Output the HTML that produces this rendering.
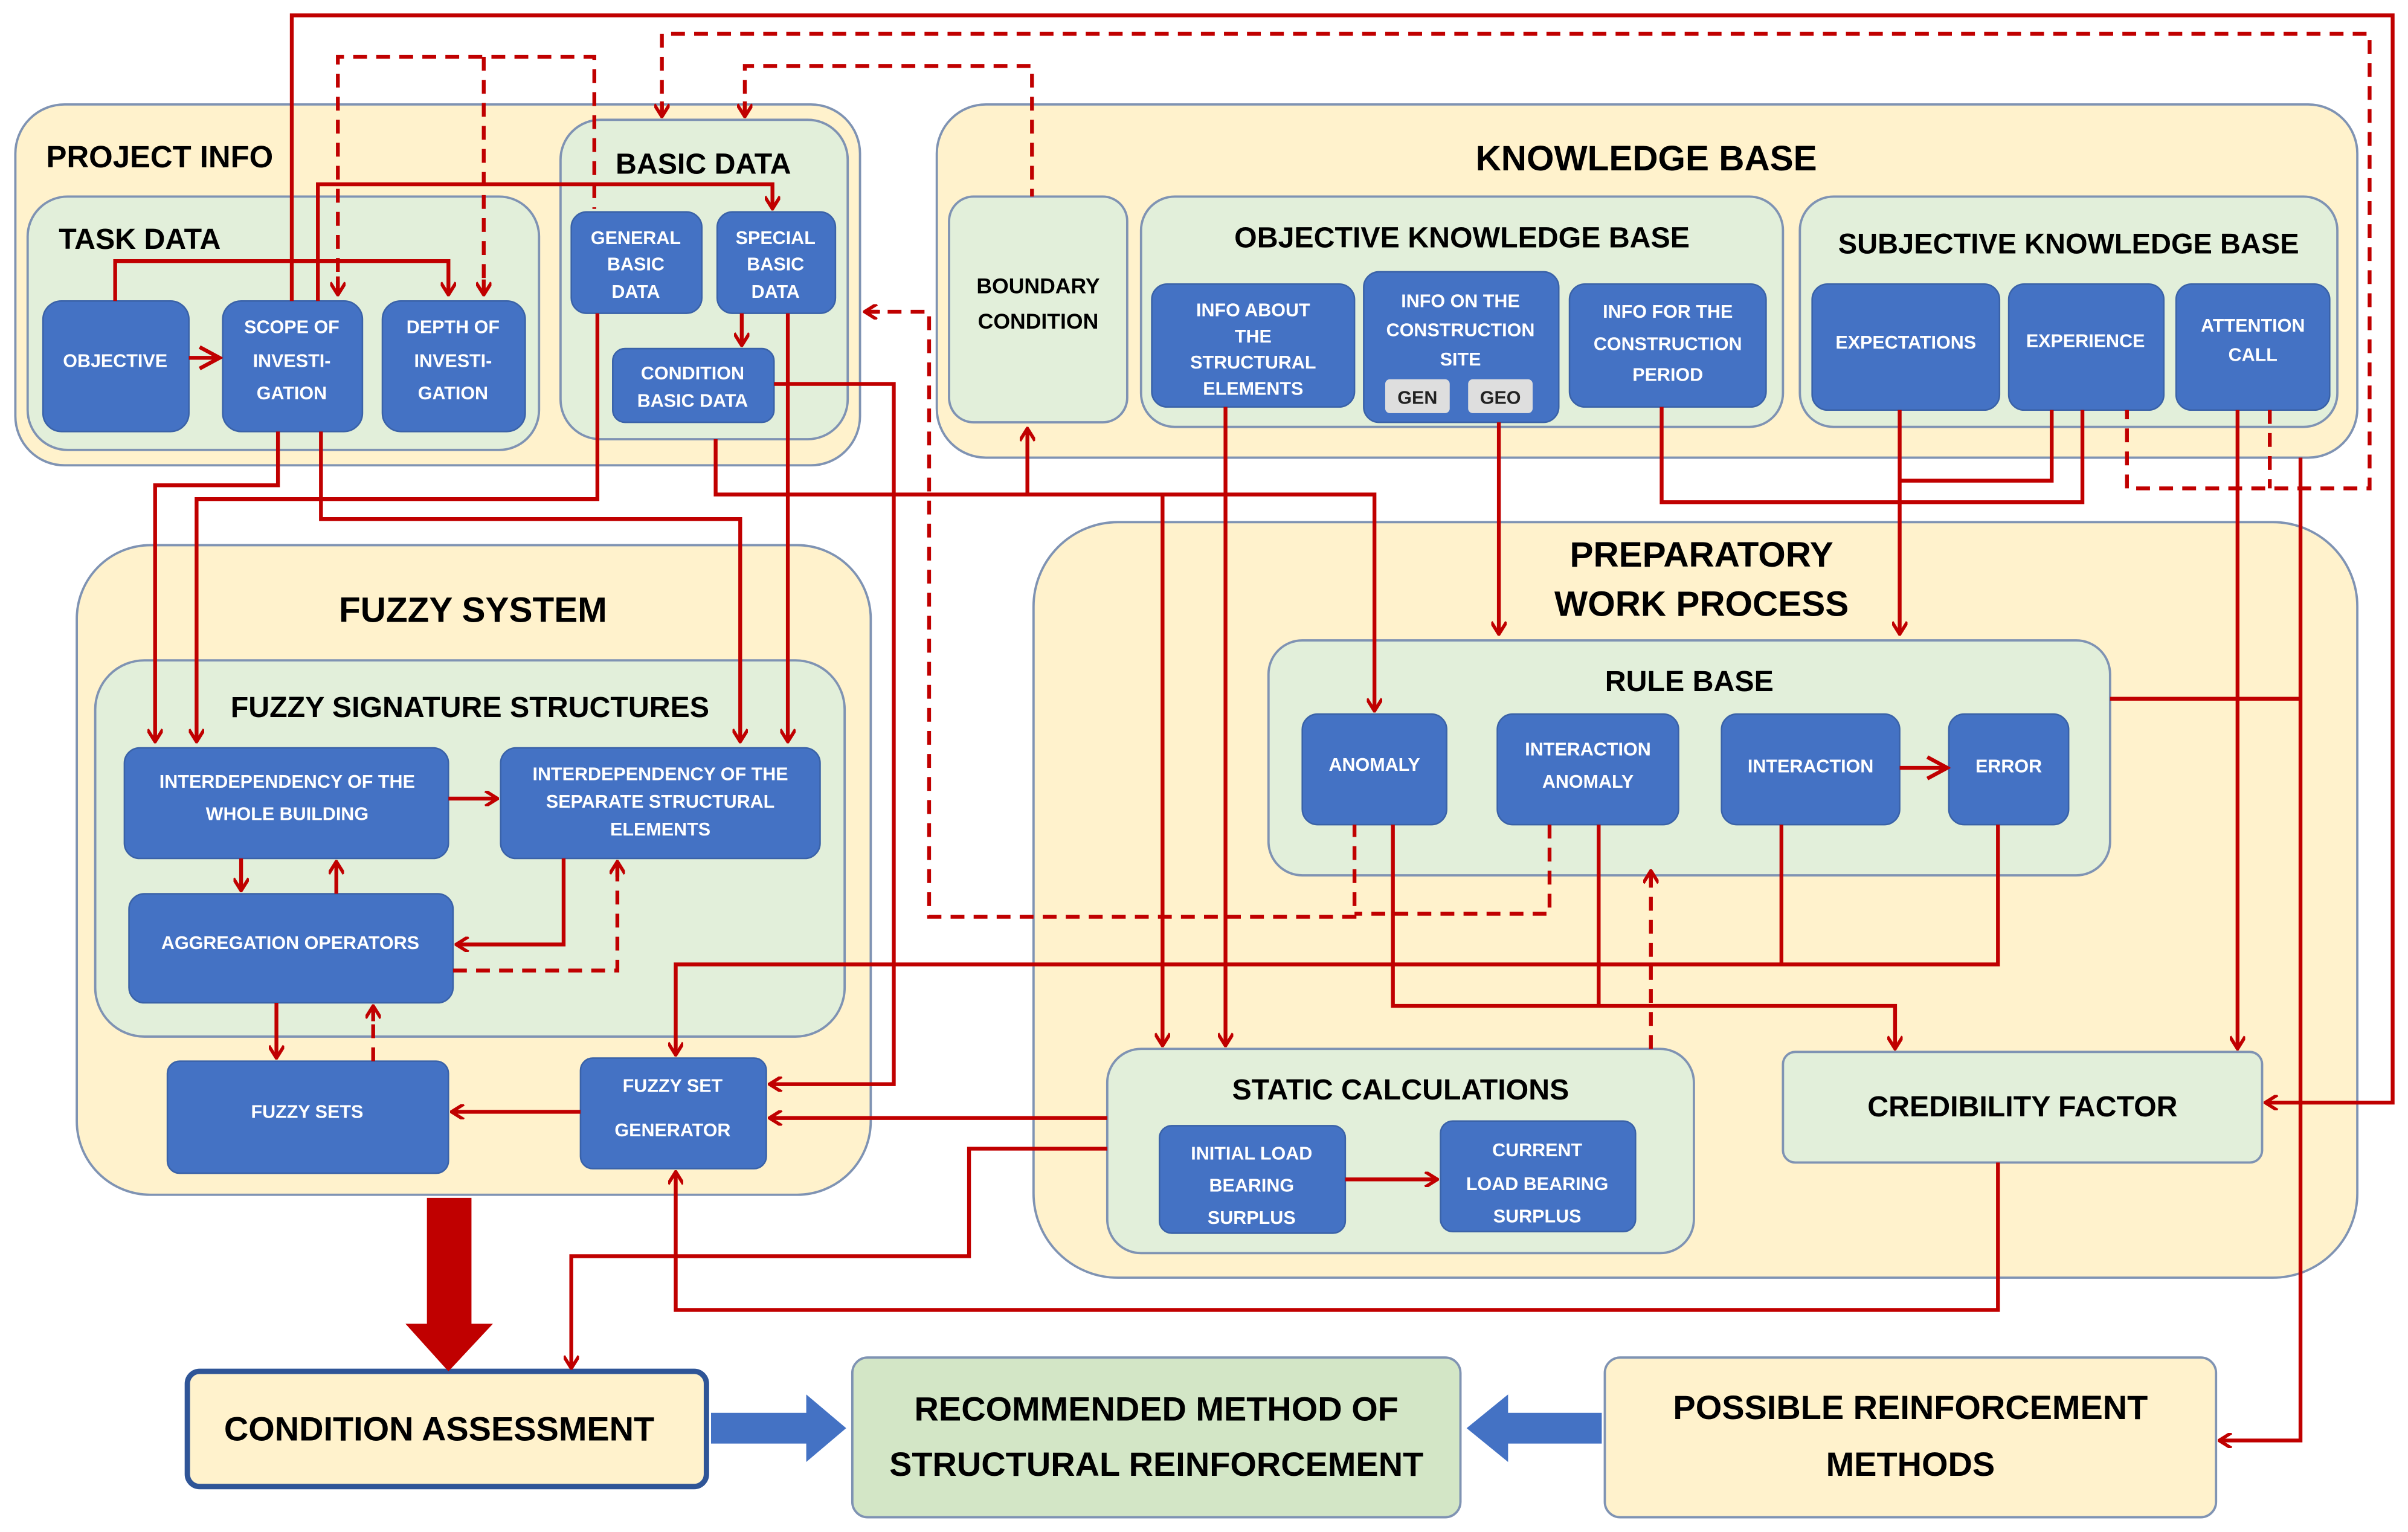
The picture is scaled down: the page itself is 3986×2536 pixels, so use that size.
<!DOCTYPE html>
<html><head><meta charset="utf-8"><style>
html,body{margin:0;padding:0;background:#fff;}
svg{display:block}
text{font-family:"Liberation Sans",sans-serif;font-weight:bold;}
.t{fill:#000;font-size:21px;text-anchor:middle}
.n{fill:#fff;font-size:12px;text-anchor:middle}
.r{stroke:#c00000;stroke-width:2.5;fill:none}
.d{stroke:#c00000;stroke-width:2.5;fill:none;stroke-dasharray:9,6}
</style></head><body>
<svg width="3986" height="2536" viewBox="0 0 1568 997.6" preserveAspectRatio="none" xmlns="http://www.w3.org/2000/svg">
<defs>
<marker id="a" markerWidth="10" markerHeight="10" refX="9" refY="5" orient="auto" markerUnits="userSpaceOnUse" viewBox="0 0 10 10"><path d="M1,0 L9,5 L1,10" fill="none" stroke="#c00000" stroke-width="2.2"/></marker>
<marker id="a2" markerWidth="16" markerHeight="16" refX="14" refY="8" orient="auto" markerUnits="userSpaceOnUse" viewBox="0 0 16 16"><path d="M1,1 L14,8 L1,15" fill="none" stroke="#c00000" stroke-width="2.5"/></marker>
</defs>
<g stroke="#7f93b3" stroke-width="1.5">
<rect x="10" y="68" width="550" height="235" rx="32" fill="#fff2cc"/>
<rect x="18" y="128" width="333" height="165" rx="26" fill="#e2efda"/>
<rect x="365" y="78" width="187" height="208" rx="26" fill="#e2efda"/>
<rect x="610" y="68" width="925" height="230" rx="32" fill="#fff2cc"/>
<rect x="618" y="128" width="116" height="147" rx="16" fill="#e2efda"/>
<rect x="743" y="128" width="418" height="150" rx="22" fill="#e2efda"/>
<rect x="1172" y="128" width="350" height="150" rx="22" fill="#e2efda"/>
<rect x="50" y="355" width="517" height="423" rx="48" fill="#fff2cc"/>
<rect x="62" y="430" width="488" height="245" rx="32" fill="#e2efda"/>
<rect x="673" y="340" width="862" height="492" rx="55" fill="#fff2cc"/>
<rect x="826" y="417" width="548" height="153" rx="22" fill="#e2efda"/>
<rect x="721" y="683" width="382" height="133" rx="22" fill="#e2efda"/>
<rect x="1161" y="685" width="312" height="72" rx="8" fill="#e2efda"/>
<rect x="555" y="884" width="396" height="104" rx="10" fill="#d3e6c6"/>
<rect x="1045" y="884" width="398" height="104" rx="10" fill="#fff2cc"/>
</g>
<rect x="122" y="893" width="338" height="75" rx="8" fill="#fff2cc" stroke="#2f5597" stroke-width="3.5"/>
<g fill="#4472c4" stroke="#3a62a8" stroke-width="1">
<rect x="28" y="196" width="95" height="85" rx="12"/>
<rect x="145" y="196" width="91" height="85" rx="12"/>
<rect x="249" y="196" width="93" height="85" rx="12"/>
<rect x="372" y="138" width="85" height="66" rx="10"/>
<rect x="467" y="138" width="77" height="66" rx="10"/>
<rect x="399" y="227" width="105" height="48" rx="8"/>
<rect x="750" y="185" width="132" height="80" rx="10"/>
<rect x="888" y="177" width="127" height="98" rx="10"/>
<rect x="1022" y="185" width="128" height="80" rx="10"/>
<rect x="1180" y="185" width="122" height="82" rx="10"/>
<rect x="1308" y="185" width="101" height="82" rx="10"/>
<rect x="1417" y="185" width="100" height="82" rx="10"/>
<rect x="81" y="487" width="211" height="72" rx="10"/>
<rect x="326" y="487" width="208" height="72" rx="10"/>
<rect x="84" y="582" width="211" height="71" rx="10"/>
<rect x="109" y="691" width="183" height="73" rx="8"/>
<rect x="378" y="689" width="121" height="72" rx="8"/>
<rect x="848" y="465" width="94" height="72" rx="10"/>
<rect x="975" y="465" width="118" height="72" rx="10"/>
<rect x="1121" y="465" width="116" height="72" rx="10"/>
<rect x="1269" y="465" width="78" height="72" rx="10"/>
<rect x="755" y="733" width="121" height="70" rx="8"/>
<rect x="938" y="730" width="127" height="72" rx="8"/>
</g>
<rect x="902" y="247" width="42" height="22" rx="3" fill="#dedede"/>
<rect x="956" y="247" width="42" height="22" rx="3" fill="#dedede"/>
<text x="923" y="263" style="font-size:12px;text-anchor:middle;fill:#222">GEN</text>
<text x="977" y="263" style="font-size:12px;text-anchor:middle;fill:#222">GEO</text>

<text class="t" x="104" y="109" style="font-size:20px">PROJECT INFO</text>
<text class="t" x="91" y="162" style="font-size:19px">TASK DATA</text>
<text class="t" x="458" y="113" style="font-size:19px">BASIC DATA</text>
<text class="t" x="1072" y="111" style="font-size:23px">KNOWLEDGE BASE</text>
<text class="t" x="952" y="161" style="font-size:19px">OBJECTIVE KNOWLEDGE BASE</text>
<text class="t" x="1347" y="165" style="font-size:18.5px">SUBJECTIVE KNOWLEDGE BASE</text>
<text class="t" x="676" y="191" style="font-size:14px">BOUNDARY</text>
<text class="t" x="676" y="214" style="font-size:14px">CONDITION</text>
<text class="t" x="308" y="405" style="font-size:23px">FUZZY SYSTEM</text>
<text class="t" x="306" y="467" style="font-size:19px">FUZZY SIGNATURE STRUCTURES</text>
<text class="t" x="1108" y="369" style="font-size:23px">PREPARATORY</text>
<text class="t" x="1108" y="401" style="font-size:23px">WORK PROCESS</text>
<text class="t" x="1100" y="450" style="font-size:19px">RULE BASE</text>
<text class="t" x="912" y="716" style="font-size:19px">STATIC CALCULATIONS</text>
<text class="t" x="1317" y="727" style="font-size:19px">CREDIBILITY FACTOR</text>
<text class="t" x="286" y="938" style="font-size:22px">CONDITION ASSESSMENT</text>
<text class="t" x="753" y="925" style="font-size:22px">RECOMMENDED METHOD OF</text>
<text class="t" x="753" y="961" style="font-size:22px">STRUCTURAL REINFORCEMENT</text>
<text class="t" x="1244" y="924" style="font-size:22px">POSSIBLE REINFORCEMENT</text>
<text class="t" x="1244" y="961" style="font-size:22px">METHODS</text>

<text class="n" x="75" y="239">OBJECTIVE</text>
<text class="n" x="190" y="217">SCOPE OF</text><text class="n" x="190" y="239">INVESTI-</text><text class="n" x="190" y="260">GATION</text>
<text class="n" x="295" y="217">DEPTH OF</text><text class="n" x="295" y="239">INVESTI-</text><text class="n" x="295" y="260">GATION</text>
<text class="n" x="414" y="159">GENERAL</text><text class="n" x="414" y="176">BASIC</text><text class="n" x="414" y="194">DATA</text>
<text class="n" x="505" y="159">SPECIAL</text><text class="n" x="505" y="176">BASIC</text><text class="n" x="505" y="194">DATA</text>
<text class="n" x="451" y="247">CONDITION</text><text class="n" x="451" y="265">BASIC DATA</text>
<text class="n" x="816" y="206">INFO ABOUT</text><text class="n" x="816" y="223">THE</text><text class="n" x="816" y="240">STRUCTURAL</text><text class="n" x="816" y="257">ELEMENTS</text>
<text class="n" x="951" y="200">INFO ON THE</text><text class="n" x="951" y="219">CONSTRUCTION</text><text class="n" x="951" y="238">SITE</text>
<text class="n" x="1086" y="207">INFO FOR THE</text><text class="n" x="1086" y="228">CONSTRUCTION</text><text class="n" x="1086" y="248">PERIOD</text>
<text class="n" x="1241" y="227">EXPECTATIONS</text>
<text class="n" x="1358" y="226">EXPERIENCE</text>
<text class="n" x="1467" y="216">ATTENTION</text><text class="n" x="1467" y="235">CALL</text>
<text class="n" x="187" y="513">INTERDEPENDENCY OF THE</text><text class="n" x="187" y="534">WHOLE BUILDING</text>
<text class="n" x="430" y="508">INTERDEPENDENCY OF THE</text><text class="n" x="430" y="526">SEPARATE STRUCTURAL</text><text class="n" x="430" y="544">ELEMENTS</text>
<text class="n" x="189" y="618">AGGREGATION OPERATORS</text>
<text class="n" x="200" y="728">FUZZY SETS</text>
<text class="n" x="438" y="711">FUZZY SET</text><text class="n" x="438" y="740">GENERATOR</text>
<text class="n" x="895" y="502">ANOMALY</text>
<text class="n" x="1034" y="492">INTERACTION</text><text class="n" x="1034" y="513">ANOMALY</text>
<text class="n" x="1179" y="503">INTERACTION</text>
<text class="n" x="1308" y="503">ERROR</text>
<text class="n" x="815" y="755">INITIAL LOAD</text><text class="n" x="815" y="776">BEARING</text><text class="n" x="815" y="797">SURPLUS</text>
<text class="n" x="1001" y="753">CURRENT</text><text class="n" x="1001" y="775">LOAD BEARING</text><text class="n" x="1001" y="796">SURPLUS</text>

<path class="r" d="M190,196 V10 H1558 V718 H1475" marker-end="url(#a)"/>
<path class="r" d="M75,196 V170 H292 V192" marker-end="url(#a)"/>
<path class="r" d="M123,233 H143" marker-end="url(#a2)"/>
<path class="r" d="M207,196 V120 H503 V136" marker-end="url(#a)"/>
<path class="r" d="M483,204 V225" marker-end="url(#a)"/>
<path class="r" d="M504,250 H582 V706 H501" marker-end="url(#a)"/>
<path class="r" d="M513,204 V483" marker-end="url(#a)"/>
<path class="r" d="M389,204 V325 H128 V483" marker-end="url(#a)"/>
<path class="r" d="M181,281 V316 H101 V483" marker-end="url(#a)"/>
<path class="r" d="M209,281 V338 H482 V483" marker-end="url(#a)"/>
<path class="r" d="M466,286 V322 H895 V463" marker-end="url(#a)"/>
<path class="r" d="M669,322 V279" marker-end="url(#a)"/>
<path class="r" d="M757,322 V681" marker-end="url(#a)"/>
<path class="r" d="M798,265 V681" marker-end="url(#a)"/>
<path class="r" d="M976,275 V413" marker-end="url(#a)"/>
<path class="r" d="M1082,265 V327 H1356 V267"/>
<path class="r" d="M1237,267 V413" marker-end="url(#a)"/>
<path class="r" d="M1336,267 V313 H1237"/>
<path class="r" d="M1457,267 V683" marker-end="url(#a)"/>
<path class="r" d="M1498,298 V938 H1445" marker-end="url(#a)"/>
<path class="r" d="M1374,455 H1498"/>
<path class="r" d="M292,520 H324" marker-end="url(#a)"/>
<path class="r" d="M157,559 V580" marker-end="url(#a)"/>
<path class="r" d="M219,582 V561" marker-end="url(#a)"/>
<path class="r" d="M367,559 V615 H297" marker-end="url(#a)"/>
<path class="r" d="M180,653 V689" marker-end="url(#a)"/>
<path class="r" d="M378,724 H294" marker-end="url(#a)"/>
<path class="r" d="M721,728 H501" marker-end="url(#a)"/>
<path class="r" d="M1301,537 V628 H440 V687" marker-end="url(#a)"/>
<path class="r" d="M1160,537 V628"/>
<path class="r" d="M907,537 V655 H1234 V683" marker-end="url(#a)"/>
<path class="r" d="M1041,537 V655"/>
<path class="r" d="M1301,757 V853 H440 V763" marker-end="url(#a)"/>
<path class="r" d="M721,748 H631 V818 H372 V891" marker-end="url(#a)"/>
<path class="r" d="M876,768 H936" marker-end="url(#a)"/>
<path class="r" d="M1237,500 H1268" marker-end="url(#a2)"/>

<path class="d" d="M220,192 V37 H387 V136"/>
<path class="r" d="M220,180 V192" marker-end="url(#a)"/>
<path class="d" d="M315,37 V192"/>
<path class="r" d="M315,182 V192" marker-end="url(#a)"/>
<path class="d" d="M431,76 V22 H1543 V318 H1385 V267"/>
<path class="r" d="M431,66 V76" marker-end="url(#a)"/>
<path class="d" d="M1478,267 V318"/>
<path class="d" d="M485,76 V43 H672 V128"/>
<path class="r" d="M485,66 V76" marker-end="url(#a)"/>
<path class="d" d="M563,203 H605 V597 H882 V537"/>
<path class="r" d="M573,203 H563" marker-end="url(#a)"/>
<path class="d" d="M1009,537 V595 H882"/>
<path class="d" d="M1075,683 V567"/>
<path class="r" d="M1075,577 V567" marker-end="url(#a)"/>
<path class="d" d="M295,632 H402 V561"/>
<path class="r" d="M402,571 V561" marker-end="url(#a)"/>
<path class="d" d="M243,691 V655"/>
<path class="r" d="M243,665 V655" marker-end="url(#a)"/>

<path d="M278,780 H307 V862 H321 L292,893 L264,862 H278 Z" fill="#c00000"/>
<path d="M463,920 H525 V908 L551,930 L525,952 V940 H463 Z" fill="#4472c4"/>
<path d="M1043,920 H982 V908 L955,930 L982,952 V940 H1043 Z" fill="#4472c4"/>
</svg>
</body></html>
